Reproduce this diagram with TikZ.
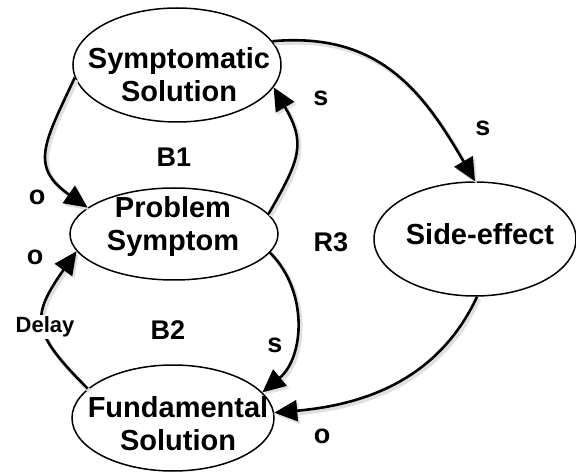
\documentclass[tikz,border=0pt]{standalone}
\usepackage{fontspec}
\setmainfont{Liberation Sans}
\usetikzlibrary{arrows.meta,shapes.geometric}

\begin{document}
\begin{tikzpicture}[x=1pt,y=-1pt,
    bubble/.style={draw, ellipse, line width=1.5pt, inner sep=0pt},
    inside/.style={align=center, font=\bfseries\fontsize{29}{33}\selectfont},
    pol/.style={font=\bfseries\fontsize{27}{30}\selectfont},
    link/.style={line width=2.6pt, -{Triangle[length=23pt,width=21pt]},
      preaction={draw=black!12, line width=4pt, transform canvas={shift={(2pt,-2.5pt)}}}}]

    \useasboundingbox (0,0) rectangle (576,473);

    \node[bubble, minimum width=208pt, minimum height=114pt] (sym) at (177,65) {};
    \node[bubble, minimum width=208pt, minimum height=92pt] (prob) at (174,234) {};
    \node[bubble, minimum width=202pt, minimum height=106pt] (fund) at (173,418) {};
    \node[bubble, minimum width=202pt, minimum height=114pt] (side) at (475,239) {};

    \node[inside] (symtext) at (179,75) {Symptomatic\\Solution};
    \node[inside] (probtext) at (173,227) {Problem\\Symptom};
    \node[inside] (fundtext) at (178,424) {Fundamental\\Solution};
    \node[inside] (sidetext) at (480,234) {Side-effect};

    \draw[link] (sym.187) to[out=245,in=145,looseness=1.4] (prob.163);
    \draw[link] (prob.12) to[out=60,in=300,looseness=1.3] (sym.347);
    \draw[link] (sym.14) to[out=5,in=120,looseness=1.1] (side.90);
    \draw[link] (side.272) to[out=245,in=5] (fund.3);
    \draw[link] (prob.349) to[out=315,in=40] (fund.16);
    \draw[link] (fund.161) to[out=135,in=235,looseness=1.5] (prob.190);

    \node[fill=white, inner sep=2pt, font=\bfseries\fontsize{22}{24}\selectfont] (delay) at (45,327) {Delay};

    \node[pol] (b1) at (174,157) {B1};
    \node[pol] (b2) at (168,330) {B2};
    \node[pol] (r3) at (331,242) {R3};

    \node[pol] (o1) at (37,197) {o};
    \node[pol] (o2) at (35,257) {o};
    \node[pol] (o3) at (322,436) {o};
    \node[pol] (s1) at (321,98) {s};
    \node[pol] (s2) at (483,128) {s};
    \node[pol] (s3) at (275,345) {s};

\end{tikzpicture}
\end{document}
